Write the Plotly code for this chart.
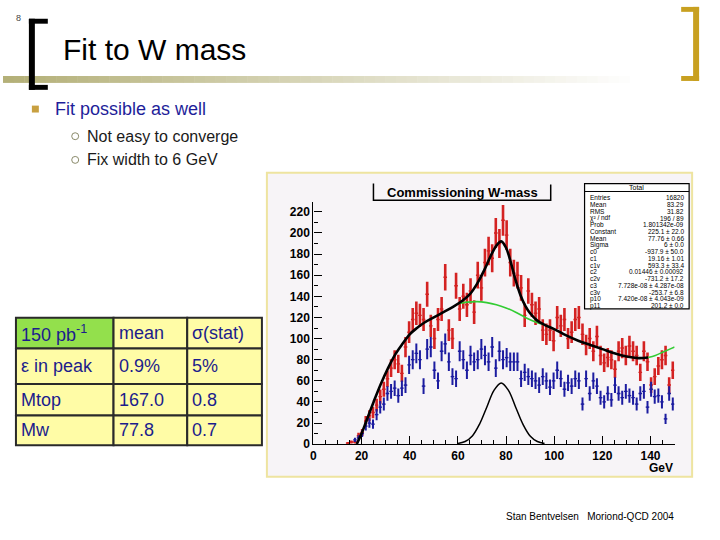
import numpy as np
import plotly.graph_objects as go

# ---------------- data ----------------
BIN_WIDTH = 1.5
RED_FIRST_CENTER = 14.25
red_counts = [1, 2, 2, 8, 11, 22, 27, 30, 37, 45, 52, 62, 72, 80, 76, 67, 92, 106, 118, 124,
              122, 118, 142, 112, 100, 118, 128, 158, 108, 100, 150, 128, 140, 132, 145, 125,
              160, 148, 172, 183, 176, 200, 190, 212, 198, 172, 162, 160, 148, 122, 145, 132,
              124, 128, 108, 104, 108, 98, 120, 112, 118, 100, 106, 118, 120, 104, 94, 100,
              88, 102, 84, 77, 82, 80, 71, 88, 91, 84, 93, 88, 84, 68, 88, 78, 56, 64, 74, 80,
              84, 56, 70]
BLUE_FIRST_CENTER = 17.25
blue_counts = [4, 6, 10, 17, 20, 19, 28, 35, 38, 48, 50, 53, 46, 53, 56, 75, 80, 86, 80, 55,
               90, 92, 70, 60, 88, 95, 78, 64, 62, 88, 80, 70, 84, 78, 80, 90, 84, 78, 92, 72,
               88, 80, 82, 78, 78, 78, 62, 68, 64, 62, 60, 56, 64, 60, 54, 60, 70, 62, 52, 58,
               55, 62, 60, 38, 62, 48, 60, 55, 44, 40, 48, 42, 56, 48, 44, 50, 46, 44, 38, 48,
               50, 35, 52, 45, 46, 40, 24, 48, 38]

# fitted curves
total_x = [18, 20, 22, 25, 28, 31, 34, 37, 40, 43, 46, 50, 54, 58, 62, 65, 68, 71, 74, 76, 78,
           80, 82, 84, 86, 88, 90, 93, 96, 100, 105, 110, 115, 120, 125, 130, 135, 139]
total_y = [0, 10, 22, 40, 57, 72, 85, 95, 104, 110, 115, 120, 125, 130, 136, 142, 152, 165,
           180, 188, 192, 186, 172, 155, 141, 131, 124, 117, 113, 109, 103, 98, 94, 90, 86, 83,
           81.5, 82]
bg_x = [60, 64, 68, 72, 76, 80, 84, 88, 92, 96]
bg_y = [133, 134.5, 135, 134, 132, 129, 125, 120, 116, 113]
bg2_x = [139, 142, 145, 148, 150]
bg2_y = [82, 84, 87, 90, 92]
gaus_x = [60, 63, 66, 69, 72, 75, 78, 81, 84, 87, 90, 93, 96]
gaus_y = [0.6, 2.5, 7.8, 19, 35, 51, 58, 51, 35, 19, 7.8, 2.5, 0.6]

x_ticks = [0, 20, 40, 60, 80, 100, 120, 140]
y_ticks = [0, 20, 40, 60, 80, 100, 120, 140, 160, 180, 200, 220]

stats_rows = [
    ("Entries", "16820"), ("Mean", "83.29"), ("RMS", "31.82"), ("χ² / ndf", "196 / 89"),
    ("Prob", "1.801342e-09"), ("Constant", "225.1 ± 22.0"), ("Mean", "77.76 ± 0.66"),
    ("Sigma", "6 ± 0.0"), ("c0", "-937.9 ± 50.0"), ("c1", "19.16 ± 1.01"),
    ("c1v", "593.3 ± 33.4"), ("c2", "0.01446 ± 0.00092"), ("c2v", "-731.2 ± 17.2"),
    ("c3", "7.728e-08 ± 4.287e-08"), ("c3v", "-253.7 ± 6.8"),
    ("p10", "7.420e-08 ± 4.043e-09"), ("p11", "201.2 ± 0.0"),
]

table_rows = [
    ["150 pb<sup>-1</sup>", "mean", "σ(stat)"],
    ["ε in peak", "0.9%", "5%"],
    ["Mtop", "167.0", "0.8"],
    ["Mw", "77.8", "0.7"],
]

# ---------------- helpers ----------------
W, H = 720, 540
def px(x):
    return x / W
def py(y):
    return 1 - y / H

red_x = RED_FIRST_CENTER + BIN_WIDTH * np.arange(len(red_counts))
blue_x = BLUE_FIRST_CENTER + BIN_WIDTH * np.arange(len(blue_counts))
red_err = np.sqrt(np.array(red_counts, dtype=float))
blue_err = np.sqrt(np.array(blue_counts, dtype=float))

RED = "#d42222"
BLUE = "#1c1ca0"

fig = go.Figure()
fig.add_trace(go.Scatter(
    x=red_x, y=red_counts, mode="markers",
    marker=dict(size=2, color=RED),
    error_y=dict(type="data", array=red_err, width=0, thickness=2.6, color=RED),
    error_x=dict(type="constant", value=BIN_WIDTH / 2, width=0, thickness=1.4, color=RED),
    showlegend=False, hoverinfo="skip"))
fig.add_trace(go.Scatter(
    x=blue_x, y=blue_counts, mode="markers",
    marker=dict(size=2, color=BLUE),
    error_y=dict(type="data", array=blue_err, width=0, thickness=2.0, color=BLUE),
    error_x=dict(type="constant", value=BIN_WIDTH / 2, width=0, thickness=1.3, color=BLUE),
    showlegend=False, hoverinfo="skip"))
for gx, gy in ((bg_x, bg_y), (bg2_x, bg2_y)):
    fig.add_trace(go.Scatter(x=gx, y=gy, mode="lines", line=dict(color="#33cc33", width=1.6, shape="spline"),
                             showlegend=False, hoverinfo="skip"))
fig.add_trace(go.Scatter(x=total_x, y=total_y, mode="lines",
                         line=dict(color="black", width=2.6, shape="spline"),
                         showlegend=False, hoverinfo="skip"))
fig.add_trace(go.Scatter(x=gaus_x, y=gaus_y, mode="lines",
                         line=dict(color="black", width=1.5, shape="spline"),
                         showlegend=False, hoverinfo="skip"))

shapes = []
annotations = []

# image panel
shapes.append(dict(type="rect", xref="paper", yref="paper", x0=px(265), x1=px(692), y0=py(483), y1=py(175),
                   fillcolor="#f7f4f7", line=dict(color="#eee4a0", width=2), layer="below"))

# title band with fade
n_seg = 60
x_start, x_end = 0, 640
for i in range(n_seg):
    t = i / (n_seg - 1)
    r = int(0xb4 + (255 - 0xb4) * t)
    g = int(0xb0 + (255 - 0xb0) * t)
    b = int(0x78 + (255 - 0x78) * t)
    shapes.append(dict(type="rect", xref="paper", yref="paper",
                       x0=px(x_start + (x_end - x_start) * i / n_seg),
                       x1=px(x_start + (x_end - x_start) * (i + 1) / n_seg + 0.5),
                       y0=py(84), y1=py(77), fillcolor=f"rgb({r},{g},{b})", line=dict(width=0), layer="below"))

# left black bracket
for (x0, x1, y0, y1) in [(26, 32, 19, 91), (26, 45, 19, 24), (26, 45, 86, 91)]:
    shapes.append(dict(type="rect", xref="paper", yref="paper", x0=px(x0), x1=px(x1), y0=py(y1), y1=py(y0),
                       fillcolor="black", line=dict(width=0)))
# right gold bracket
for (x0, x1, y0, y1) in [(693, 699, 7, 82), (681, 699, 7, 12), (681, 699, 77, 82)]:
    shapes.append(dict(type="rect", xref="paper", yref="paper", x0=px(x0), x1=px(x1), y0=py(y1), y1=py(y0),
                       fillcolor="#c8a020", line=dict(width=0)))

# bullet square
shapes.append(dict(type="rect", xref="paper", yref="paper", x0=px(29), x1=px(36), y0=py(114), y1=py(107),
                   fillcolor="#c8a040", line=dict(width=0)))
# sub bullet circles
for cy in (138, 162):
    shapes.append(dict(type="circle", xref="paper", yref="paper", x0=px(69), x1=px(76), y0=py(cy + 3.5), y1=py(cy - 3.5),
                       line=dict(color="#8a8a6a", width=1)))

annotations.append(dict(text="8", x=px(16), y=py(18), xref="paper", yref="paper", showarrow=False,
                        xanchor="center", yanchor="middle",
                        font=dict(family="Liberation Sans", size=9, color="#444")))
annotations.append(dict(text="Fit to W mass", x=px(58), y=py(50), xref="paper", yref="paper", showarrow=False,
                        xanchor="left", yanchor="middle", font=dict(family="Liberation Sans", size=30, color="black")))
annotations.append(dict(text="Fit possible as well", x=px(50), y=py(110), xref="paper", yref="paper", showarrow=False,
                        xanchor="left", yanchor="middle", font=dict(family="Liberation Sans", size=18, color="#1e1e9a")))
for cy, txt in ((138, "Not easy to converge"), (162, "Fix width to 6 GeV")):
    annotations.append(dict(text=txt, x=px(82), y=py(cy), xref="paper", yref="paper", showarrow=False,
                            xanchor="left", yanchor="middle", font=dict(family="Liberation Sans", size=16, color="#1a1a1a")))

# table
col_edges = [13, 111, 185, 260]
row_edges = [322, 353, 389, 421, 451]
for ri in range(4):
    for ci in range(3):
        fill = "#93e04c" if (ri == 0 and ci == 0) else "#fffca6"
        shapes.append(dict(type="rect", xref="paper", yref="paper",
                           x0=px(col_edges[ci]), x1=px(col_edges[ci + 1]),
                           y0=py(row_edges[ri + 1]), y1=py(row_edges[ri]),
                           fillcolor=fill, line=dict(color="#2a2a2a", width=2)))
        annotations.append(dict(text=table_rows[ri][ci], x=px(col_edges[ci] + 3),
                                y=py((row_edges[ri] + row_edges[ri + 1]) / 2), xref="paper", yref="paper",
                                showarrow=False, xanchor="left", yanchor="middle",
                                font=dict(family="Liberation Sans", size=18, color="#1c1c8c")))

# histogram title box
shapes.append(dict(type="path", xref="paper", yref="paper",
                   path=f"M {px(372)} {py(186)} L {px(372)} {py(203)} L {px(550)} {py(203)} L {px(550)} {py(187)}",
                   line=dict(color="black", width=1.5)))
annotations.append(dict(text="<b>Commissioning W-mass</b>", x=px(461), y=py(195), xref="paper", yref="paper",
                        showarrow=False, xanchor="center", yanchor="middle",
                        font=dict(family="Liberation Sans", size=13, color="black")))

# stats box
sx0, sx1, sy0, sy1 = 584, 689, 186, 313
shapes.append(dict(type="rect", xref="paper", yref="paper", x0=px(sx0), x1=px(sx1), y0=py(sy1), y1=py(sy0),
                   fillcolor="white", line=dict(color="black", width=1.2)))
shapes.append(dict(type="line", xref="paper", yref="paper", x0=px(sx0), x1=px(sx1), y0=py(194), y1=py(194),
                   line=dict(color="black", width=1)))
annotations.append(dict(text="Total", x=px((sx0 + sx1) / 2), y=py(190), xref="paper", yref="paper",
                        showarrow=False, xanchor="center", yanchor="middle",
                        font=dict(family="Liberation Sans", size=7, color="black")))
row_h = (sy1 - 197) / len(stats_rows)
for i, (lab, val) in enumerate(stats_rows):
    yy = 197 + row_h * (i + 0.5)
    annotations.append(dict(text=lab, x=px(sx0 + 3), y=py(yy), xref="paper", yref="paper", showarrow=False,
                            xanchor="left", yanchor="middle", font=dict(family="Liberation Sans", size=6.5, color="black")))
    annotations.append(dict(text=val, x=px(sx1 - 3), y=py(yy), xref="paper", yref="paper", showarrow=False,
                            xanchor="right", yanchor="middle", font=dict(family="Liberation Sans", size=6.5, color="black")))

# axis title
annotations.append(dict(text="<b>GeV</b>", x=px(675), y=py(474), xref="paper", yref="paper", showarrow=False,
                        xanchor="right", yanchor="middle", font=dict(family="Liberation Sans", size=12, color="black")))

# footer
annotations.append(dict(text="Stan Bentvelsen&nbsp;&nbsp;&nbsp;Moriond-QCD 2004", x=px(503), y=py(523),
                        xref="paper", yref="paper", showarrow=False, xanchor="left", yanchor="middle",
                        font=dict(family="Liberation Sans", size=10, color="black")))

fig.update_layout(
    width=W, height=H,
    margin=dict(l=0, r=0, t=0, b=0),
    paper_bgcolor="white",
    plot_bgcolor="rgba(0,0,0,0)",
    shapes=shapes,
    annotations=annotations,
    showlegend=False,
    xaxis=dict(domain=[px(311.7), px(674.4)], range=[0, 150], tickvals=x_ticks,
               ticks="inside", ticklen=8, tickcolor="black", showgrid=False, zeroline=False,
               showline=True, linecolor="black", linewidth=1.2,
               minor=dict(dtick=5, ticks="inside", ticklen=4, tickcolor="black"),
               tickfont=dict(family="Liberation Sans", size=12, color="black", weight="bold")),
    yaxis=dict(domain=[py(450), py(205)], range=[0, 229], tickvals=y_ticks,
               ticks="inside", ticklen=8, tickcolor="black", showgrid=False, zeroline=False,
               showline=True, linecolor="black", linewidth=1.2,
               minor=dict(dtick=10, ticks="inside", ticklen=4, tickcolor="black"),
               tickfont=dict(family="Liberation Sans", size=12, color="black", weight="bold")),
)

fig.write_html("out.html", config={"displayModeBar": False},
               post_script="document.body.style.margin='0';document.body.style.padding='0';")
